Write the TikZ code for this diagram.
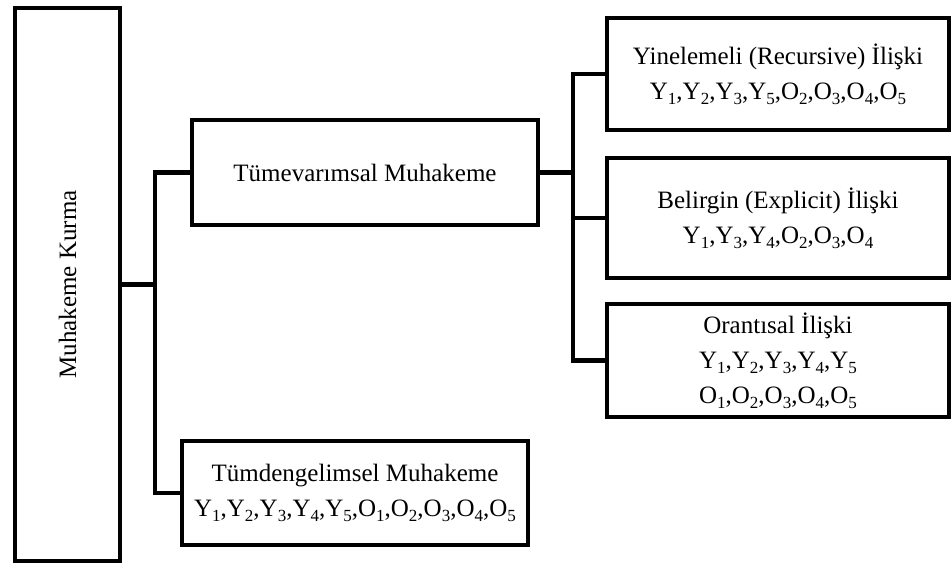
\documentclass[tikz,border=0pt]{standalone}
\usepackage{fontspec}
\setmainfont{Liberation Serif}
\newcommand{\lowsub}[1]{\raisebox{-5pt}{\fontsize{17}{17}\selectfont #1}}
\newcommand{\Ys}[1]{Y\lowsub{#1}}
\newcommand{\Os}[1]{O\lowsub{#1}}

\begin{document}
\begin{tikzpicture}[
  x=1pt, y=-1pt,
  every node/.style={font=\fontsize{25}{35}\selectfont, inner sep=2pt},
  box/.style={draw=black, line width=4.5pt, rectangle, align=center},
  link/.style={draw=black, line width=4.5pt},
]
\useasboundingbox (0,0) rectangle (952,564);

% left column
\node[box, minimum width=105pt, minimum height=553pt] (kurma) at (67.5,284.5)
  {\rotatebox{90}{Muhakeme Kurma}};

% middle column
\node[box, minimum width=346pt, minimum height=105pt] (tumevar) at (365,172.5)
  {Tümevarımsal Muhakeme};
\node[box, minimum width=346pt, minimum height=104pt] (tumden) at (355,493)
  {Tümdengelimsel Muhakeme\\
   \Ys1,\Ys2,\Ys3,\Ys4,\Ys5,\Os1,\Os2,\Os3,\Os4,\Os5};

% right column
\node[box, minimum width=342pt, minimum height=112pt] (yinel) at (778,74)
  {Yinelemeli (Recursive) İlişki\\
   \Ys1,\Ys2,\Ys3,\Ys5,\Os2,\Os3,\Os4,\Os5};
\node[box, minimum width=342pt, minimum height=120pt] (belir) at (778,218)
  {Belirgin (Explicit) İlişki\\
   \Ys1,\Ys3,\Ys4,\Os2,\Os3,\Os4};
\node[box, minimum width=342pt, minimum height=113pt] (orant) at (778,360.5)
  {Orantısal İlişki\\
   \Ys1,\Ys2,\Ys3,\Ys4,\Ys5\\
   \Os1,\Os2,\Os3,\Os4,\Os5};

% branches
\coordinate (split1) at (155,284.5);
\coordinate (split2) at (573,172.5);
\draw[link] (kurma.east) -- (split1);
\draw[link] (tumevar.west) -| (split1) |- (tumden.west);
\draw[link] (tumevar.east) -- (split2);
\draw[link] (yinel.west) -| (split2) |- (orant.west);
\draw[link] (split2 |- belir.west) -- (belir.west);
\end{tikzpicture}
\end{document}
